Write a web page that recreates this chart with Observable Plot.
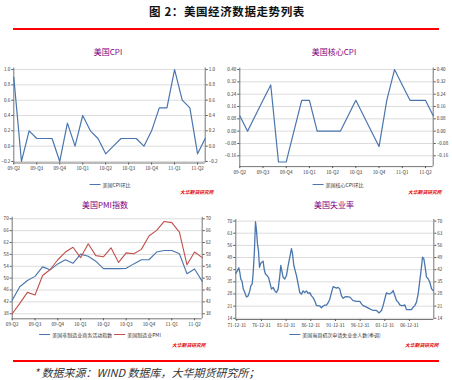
<!DOCTYPE html>
<html><head><meta charset="utf-8">
<script src="https://cdn.jsdelivr.net/npm/d3@7"></script>
<script src="https://cdn.jsdelivr.net/npm/@observablehq/plot@0.6"></script>
<style>
html,body{margin:0;padding:0;background:#fff}
body{width:452px;height:380px;position:relative;overflow:hidden;font-family:"Noto Sans CJK SC","Noto Sans",sans-serif}
.abs{position:absolute;white-space:nowrap}
.ptitle{color:#800080;font-size:8px;transform:translateX(-50%)}
.legend{font-size:5px;color:#333;transform:translateX(-50%);display:flex;align-items:center;gap:2px}
.legend i{display:inline-block;width:11px;height:1.3px}
.src{color:#e00000;font-size:4.8px;font-style:italic;font-weight:bold}
</style></head><body>
<script>
// ---- data ----
const quarterLabels = ["09-Q2","09-Q3","09-Q4","10-Q1","10-Q2","10-Q3","10-Q4","11-Q1","11-Q2"];
const cpiMoM = [0.9,-0.2,0.2,0.1,0.1,0.1,-0.2,0.3,0.0,0.4,0.2,0.1,-0.1,0.0,0.1,0.1,0.1,0.0,0.2,0.5,0.5,1.0,0.6,0.5,-0.1,0.1];
const coreCpiMoM = [0.1,0.0,0.1,0.2,0.3,-0.2,-0.2,0.0,0.2,0.2,0.0,0.0,0.0,0.0,0.1,0.2,0.1,0.0,-0.1,0.2,0.4,0.3,0.2,0.2,0.2,0.1];
const pmiNonMfg = [42.6,47.1,49.2,50.6,53.8,52.8,54.8,56.2,55.0,58.1,57.4,55.7,53.2,53.2,53.2,53.3,54.8,56.2,56.2,58.8,59.3,59.3,58.2,51.5,53.1,48.9];
const pmiMfg = [38.0,41.5,45.2,44.3,50.9,52.9,56.2,58.8,60.4,56.9,61.6,57.6,57.2,60.2,55.3,58.5,58.2,59.7,64.2,66.1,69.1,68.7,65.5,54.5,58.8,56.9];
const claimTickYears = [1972,1977,1982,1987,1992,1997,2002,2007];
const claimTickLabels = ["71-12-31","76-12-31","81-12-31","86-12-31","91-12-31","96-12-31","01-12-31","06-12-31"];
const claimYears = [1971.80,1972.14,1972.41,1972.61,1972.81,1973.08,1973.29,1973.62,1973.96,1974.30,1974.64,1974.84,1975.11,1975.31,1975.58,1975.79,1975.99,1976.19,1976.39,1976.60,1976.80,1977.07,1977.34,1977.54,1977.81,1978.15,1978.42,1978.69,1979.03,1979.37,1979.71,1980.04,1980.38,1980.72,1980.92,1981.12,1981.39,1981.73,1982.07,1982.41,1982.75,1983.08,1983.29,1983.56,1983.83,1984.10,1984.44,1984.77,1985.11,1985.45,1985.79,1986.12,1986.46,1986.80,1987.14,1987.48,1987.81,1988.15,1988.49,1988.83,1989.16,1989.50,1989.84,1990.18,1990.52,1990.85,1991.19,1991.53,1991.87,1992.21,1992.54,1992.88,1993.22,1993.56,1993.89,1994.23,1994.91,1995.58,1996.26,1996.94,1997.27,1997.61,1998.29,1998.96,1999.64,2000.31,2000.85,2001.33,2001.66,2002.00,2002.34,2002.68,2003.02,2003.36,2003.69,2004.03,2004.37,2004.71,2005.04,2005.38,2005.72,2006.06,2006.39,2006.73,2007.07,2007.41,2007.75,2008.08,2008.42,2008.76,2009.10,2009.43,2009.64,2009.91,2010.18,2010.45,2010.79,2011.12,2011.46,2011.80];
const claimValues = [39.9,41.5,43.1,40.5,36.6,35.2,31.1,28.8,26.3,26.9,29.8,32.7,33.7,39.5,53.1,69.6,64.8,57.0,53.1,43.4,45.3,46.3,46.9,42.4,39.5,38.6,37.6,34.7,30.8,31.8,29.8,28.8,30.8,38.6,44.4,41.5,37.6,36.6,38.6,44.4,49.2,54.1,51.2,44.4,41.5,38.6,33.7,28.8,27.9,29.8,28.8,29.8,28.3,28.8,26.9,25.9,24.0,21.4,21.1,21.1,20.1,21.1,21.6,21.6,23.0,25.0,28.8,32.2,31.8,31.4,31.8,30.8,26.9,25.5,26.3,26.5,26.2,24.2,23.7,23.7,22.3,21.3,20.4,19.4,18.5,18.5,17.1,18.5,21.3,25.2,28.7,28.1,28.1,28.7,30.0,27.1,24.2,23.3,21.7,21.3,21.3,21.7,19.0,19.0,19.0,19.0,20.4,21.3,23.3,28.1,35.8,43.5,49.2,48.3,43.5,37.7,36.8,34.8,31.0,30.0];

const BLUE = "#4a76ad", RED = "#c0504d";
const FONT = '"Noto Sans CJK SC","Noto Sans",sans-serif';

function panel(o) {
  const W = o.width, H = o.height;
  const axisOpts = {tickSize: 2, tickPadding: 1.5, fontSize: 4.6, tickFormat: o.yFmt, stroke: "#555"};
  const p = Plot.plot({
    width: W, height: H,
    marginLeft: o.fx0, marginRight: W - o.fx1, marginTop: o.fy0, marginBottom: H - o.fy1,
    x: {domain: o.xDomain, axis: null},
    y: {domain: o.yDomain, axis: null},
    style: {background: "transparent", fontFamily: FONT, color: "#333", overflow: "visible"},
    marks: [
      Plot.gridY(o.yTicks, {stroke: "#dcdcdc", strokeOpacity: 1}),
      Plot.ruleX([o.xDomain[0], o.xDomain[1]], {stroke: "#666", strokeWidth: 0.9}),
      Plot.ruleY([o.yDomain[0]], {stroke: "#666", strokeWidth: 0.9}),
      Plot.axisY(o.yTicks, {anchor: "left", ...axisOpts}),
      Plot.axisY(o.yTicks, {anchor: "right", ...axisOpts}),
      Plot.axisX(o.xTicks, {anchor: "bottom", tickSize: 2, tickPadding: 2, fontSize: 4.6, stroke: "#555", tickFormat: o.xFmt}),
      ...o.marks
    ]
  });
  p.style.position = "absolute";
  p.style.left = o.left + "px";
  p.style.top = o.top + "px";
  document.body.appendChild(p);
}

function text(cls, html, left, top, extra) {
  const d = document.createElement("div");
  d.className = "abs " + cls;
  d.innerHTML = html;
  d.style.left = left + "px";
  d.style.top = top + "px";
  if (extra) Object.assign(d.style, extra);
  document.body.appendChild(d);
  return d;
}

const idx = d3.range(26);
const qTicks = d3.range(0, 25, 3);
const qFmt = d => quarterLabels[d / 3];

// Panel 1: CPI
panel({left: 0, top: 60, width: 226, height: 125,
  fx0: 13.3, fx1: 204.7, fy0: 67.5 - 60, fy1: 162.5 - 60,
  xDomain: [0, 25], yDomain: [-0.22, 1.02],
  yTicks: [-0.2, 0, 0.2, 0.4, 0.6, 0.8, 1.0], yFmt: d3.format(".1f"),
  xTicks: qTicks, xFmt: qFmt,
  marks: [Plot.line(idx, {x: i => i, y: i => cpiMoM[i], stroke: BLUE, strokeWidth: 1.2})]
});
// Panel 2: core CPI
panel({left: 226, top: 60, width: 226, height: 125,
  fx0: 239.3 - 226, fx1: 432.7 - 226, fy0: 67.5 - 60, fy1: 166.1 - 60,
  xDomain: [0, 25], yDomain: [-0.23, 0.41],
  yTicks: [-0.16, -0.08, 0, 0.08, 0.16, 0.24, 0.32, 0.40], yFmt: d3.format(".2f"),
  xTicks: qTicks, xFmt: qFmt,
  marks: [Plot.line(idx, {x: i => i, y: i => coreCpiMoM[i], stroke: BLUE, strokeWidth: 1.2})]
});
// Panel 3: PMI
panel({left: 0, top: 210, width: 226, height: 120,
  fx0: 11.7, fx1: 201.7, fy0: 216.8 - 210, fy1: 318.3 - 210,
  xDomain: [0, 25], yDomain: [36.3, 70.5],
  yTicks: [38, 42, 46, 50, 54, 58, 62, 66, 70], yFmt: d3.format("d"),
  xTicks: qTicks, xFmt: qFmt,
  marks: [
    Plot.line(idx, {x: i => i, y: i => pmiNonMfg[i], stroke: BLUE, strokeWidth: 1.1}),
    Plot.line(idx, {x: i => i, y: i => pmiMfg[i], stroke: RED, strokeWidth: 1.1})
  ]
});
// Panel 4: claims
panel({left: 226, top: 210, width: 226, height: 120,
  fx0: 235.3 - 226, fx1: 433.3 - 226, fy0: 219 - 210, fy1: 319 - 210,
  xDomain: [1971.8, 2011.93], yDomain: [13.3, 70.9],
  yTicks: [14, 21, 28, 35, 42, 49, 56, 63, 70], yFmt: d3.format("d"),
  xTicks: claimTickYears, xFmt: d => claimTickLabels[claimTickYears.indexOf(d)],
  marks: [Plot.line(claimYears.map((y, i) => [y, claimValues[i]]), {x: d => d[0], y: d => d[1], stroke: BLUE, strokeWidth: 1.3})]
});

// headings & decorations
text("", "图 2：美国经济数据走势列表", 227, 3, {fontSize: "11.5px", fontWeight: "bold", color: "#111", transform: "translateX(-50%)", letterSpacing: "0.6px"});
text("", "", 13, 28, {width: "426px", height: "2px", background: "#ff0000"});
text("", "", 13, 359.7, {width: "426px", height: "2px", background: "#ff0000"});
text("", "* 数据来源：WIND 数据库，大华期货研究所；", 34, 364, {fontSize: "11px", fontStyle: "italic", color: "#333"});

text("ptitle", "美国CPI", 108, 46);
text("ptitle", "美国核心CPI", 334, 46);
text("ptitle", "美国PMI指数", 105, 199);
text("ptitle", "美国失业率", 334, 199);

text("legend", `<i style="background:${BLUE}"></i>美国CPI环比`, 110, 181);
text("legend", `<i style="background:${BLUE}"></i>美国核心CPI环比`, 338, 181);
text("legend", `<i style="background:${BLUE}"></i>美国非制造业商务活动指数 <i style="background:${RED}"></i>美国制造业PMI`, 100, 331);
text("legend", `<i style="background:${BLUE}"></i>美国当周初次申请失业金人数(季调)`, 335, 331);

text("src", "大华期货研究所", 180, 188);
text("src", "大华期货研究所", 408, 188);
text("src", "大华期货研究所", 172, 341);
text("src", "大华期货研究所", 405, 341);
</script>
</body></html>
